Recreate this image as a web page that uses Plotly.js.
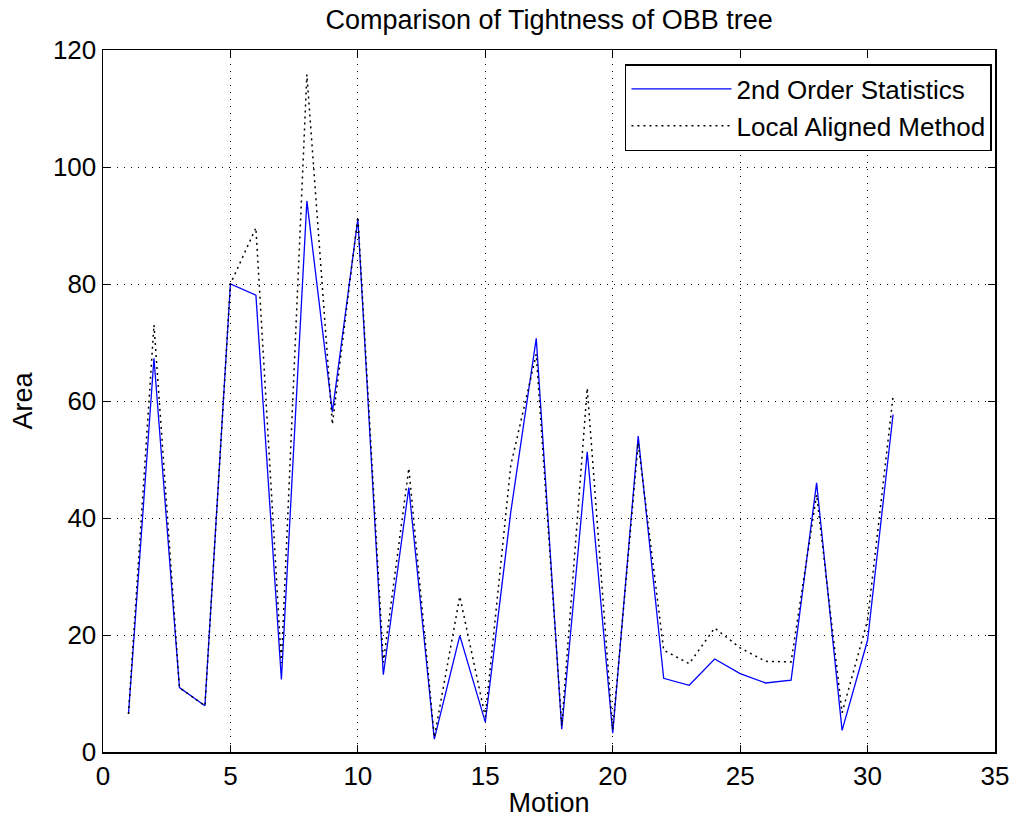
<!DOCTYPE html>
<html>
<head>
<meta charset="utf-8">
<script src="https://cdn.plot.ly/plotly-3.0.1.min.js"></script>
<style>html,body{margin:0;padding:0;background:#fff;}#chart{width:1014px;height:822px;}</style>
</head>
<body>
<div id="chart"></div>
<script>
const motion = [1,2,3,4,5,6,7,8,9,10,11,12,13,14,15,16,17,18,19,20,21,22,23,24,25,26,27,28,29,30,31];
const secondOrder = [6.5,67.3,11.0,7.9,80.0,78.1,12.4,94.2,58.1,91.1,13.2,45.2,2.2,19.9,5.1,41.0,70.7,3.9,51.3,3.2,54.0,12.6,11.4,15.9,13.4,11.8,12.3,46.0,3.7,19.1,57.7];
const localAligned = [6.5,73.0,11.0,7.9,80.0,89.6,15.2,115.8,56.0,91.5,15.3,48.5,2.5,26.6,6.0,49.0,68.0,4.5,62.2,3.8,52.8,17.4,15.1,21.2,17.8,15.5,15.4,44.0,6.7,22.5,60.8];
const seriesNames = ["2nd Order Statistics","Local Aligned Method"];
const xTicks = [0,5,10,15,20,25,30,35];
const yTicks = [0,20,40,60,80,100,120];

const font = "Liberation Sans, Arial, Helvetica, sans-serif";
const traces = [
  {x: motion, y: secondOrder, type: "scatter", mode: "lines", name: seriesNames[0],
   line: {color: "#0000ff", width: 1.3}},
  {x: motion, y: localAligned, type: "scatter", mode: "lines", name: seriesNames[1],
   line: {color: "#000000", width: 1.5, dash: "2px,4px"}}
];
const axisCommon = {
  showline: true, linecolor: "#000", linewidth: 1.5, mirror: "ticks",
  ticks: "inside", ticklen: 7, tickcolor: "#000", tickwidth: 1,
  showgrid: true, gridcolor: "#000", griddash: "1px,6px", gridwidth: 1,
  zeroline: false, tickfont: {family: font, size: 26, color: "#000"}
};
const layout = {
  width: 1014, height: 822,
  margin: {l: 103, r: 19, t: 50, b: 70},
  paper_bgcolor: "#fff", plot_bgcolor: "#fff",
  title: {text: "Comparison of Tightness of OBB tree", font: {family: font, size: 27, color: "#000"},
          x: 0.5415, xanchor: "center", y: 0.976, yanchor: "middle"},
  xaxis: Object.assign({}, axisCommon, {range: [0,35], tickvals: xTicks, ticktext: xTicks.map(String),
          title: {text: "Motion", font: {family: font, size: 27, color: "#000"}, standoff: 3}}),
  yaxis: Object.assign({}, axisCommon, {range: [0,120], tickvals: yTicks, ticktext: yTicks.map(String),
          title: {text: "Area", font: {family: font, size: 27, color: "#000"}, standoff: 12}}),
  showlegend: true,
  legend: {x: 0.9966, xanchor: "right", y: 0.98, yanchor: "top",
           bordercolor: "#000", borderwidth: 1.5, bgcolor: "#fff", itemwidth: 100,
           font: {family: font, size: 26, color: "#000"}, tracegroupgap: 0}
};
Plotly.newPlot("chart", traces, layout, {displayModeBar: false, staticPlot: true});
</script>
</body>
</html>
